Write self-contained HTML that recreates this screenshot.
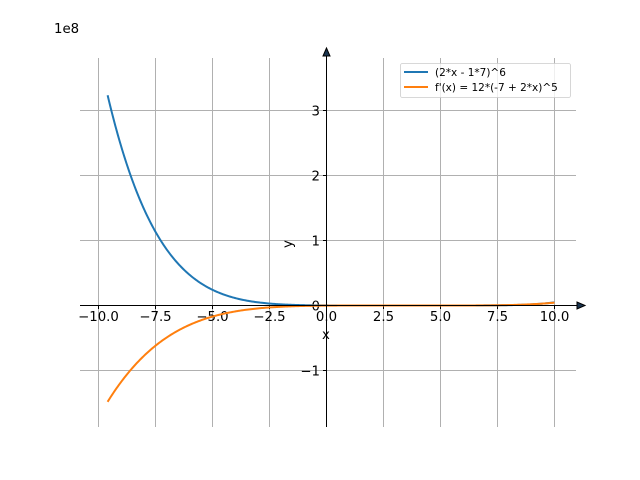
<!DOCTYPE html>
<html><head><meta charset="utf-8"><style>
body{margin:0;background:#fff}
svg{display:block;font-family:"DejaVu Sans","Liberation Sans",sans-serif}
</style></head><body>
<svg id="s" width="640" height="480" viewBox="0 0 640 480" xmlns="http://www.w3.org/2000/svg">
<rect width="640" height="480" fill="#fff"/>
<g stroke="#b0b0b0" stroke-width="1" id="grid"></g>
<g id="ticks" font-size="13.3" fill="#000"></g>
<path id="blue" fill="none" stroke="#1f77b4" stroke-width="2"/>
<path id="orange" fill="none" stroke="#ff7f0e" stroke-width="2"/>
<line x1="80" y1="305.5" x2="582" y2="305.5" stroke="#000" stroke-width="1"/>
<path d="M585,305.5 L577,302 L577,309 Z" fill="#1a3550" stroke="#000" stroke-width="1"/>
<line x1="326.5" y1="52" x2="326.5" y2="427" stroke="#000" stroke-width="1"/>
<path d="M326.5,48 L323,56 L330,56 Z" fill="#1a3550" stroke="#000" stroke-width="1"/>
<text x="54" y="33" font-size="13.3">1e8</text>
<text x="322" y="339" font-size="13.3">x</text>
<text transform="translate(292,248) rotate(-90)" font-size="13.3">y</text>
<rect x="400.5" y="63.5" width="170" height="34" rx="2" fill="#fff" fill-opacity="0.8" stroke="#ccc" stroke-width="0.8"/>
<line x1="404" y1="72" x2="428" y2="72" stroke="#1f77b4" stroke-width="2"/>
<line x1="404" y1="87" x2="428" y2="87" stroke="#ff7f0e" stroke-width="2"/>
<text x="435" y="76" font-size="10.5">(2*x - 1*7)^6</text>
<text x="435" y="91" font-size="10.5">f'(x) = 12*(-7 + 2*x)^5</text>
</svg>
<script>
var X=function(x){return 326.5+x*22.8},Y=function(v){return 305.5-v*65/1e8};
var R=function(p){return Math.floor(p)+0.5};
var g=document.getElementById('grid'),t=document.getElementById('ticks'),ns='http://www.w3.org/2000/svg';
function el(p,n,a,txt){var e=document.createElementNS(ns,n);for(var k in a)e.setAttribute(k,a[k]);if(txt!=null)e.textContent=txt;p.appendChild(e);}
var xs=[-10,-7.5,-5,-2.5,0,2.5,5,7.5,10];
xs.forEach(function(x){var px=R(X(x));el(g,'line',{x1:px,y1:58,x2:px,y2:427});
el(t,'line',{x1:px,y1:305.5,x2:px,y2:309,stroke:'#000','stroke-width':1});
el(t,'text',{x:px,y:321,'text-anchor':'middle'},(x<0?'\u2212':'')+Math.abs(x).toFixed(1));});
[-1,0,1,2,3].forEach(function(v){var py=R(Y(v*1e8));el(g,'line',{x1:80,y1:py,x2:576,y2:py});
el(t,'line',{x1:323,y1:py,x2:326.5,y2:py,stroke:'#000','stroke-width':1});
el(t,'text',{x:320,y:py+5,'text-anchor':'end'},(v<0?'\u2212':'')+Math.abs(v));});
var b='',o='';for(var i=0;i<=400;i++){var x=-9.6+19.6*i/400,u=2*x-7;
b+=(i?'L':'M')+X(x).toFixed(2)+','+Y(Math.pow(u,6)).toFixed(2);
o+=(i?'L':'M')+X(x).toFixed(2)+','+Y(12*Math.pow(u,5)).toFixed(2);}
document.getElementById('blue').setAttribute('d',b);document.getElementById('orange').setAttribute('d',o);
</script>
</body></html>
